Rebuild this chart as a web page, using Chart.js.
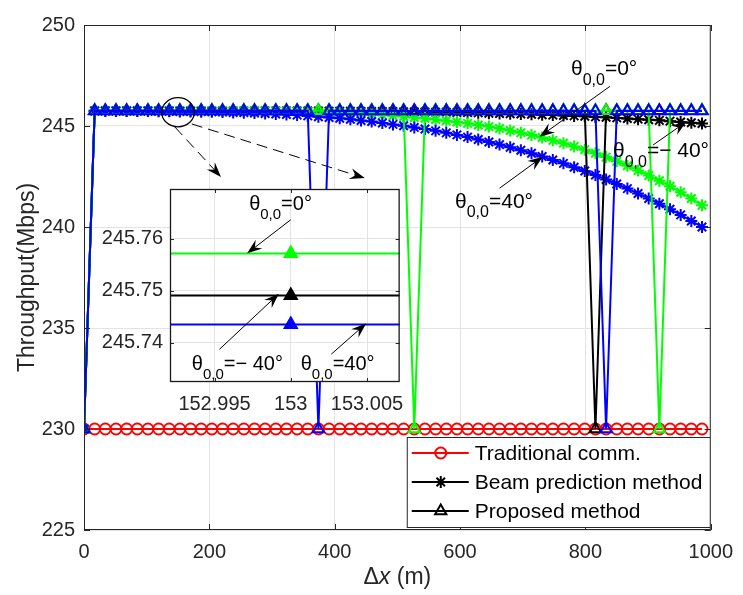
<!DOCTYPE html>
<html>
<head>
<meta charset="utf-8">
<script src="https://cdn.jsdelivr.net/npm/chart.js@4.4.0/dist/chart.umd.min.js"></script>
<style>
  html, body { margin: 0; padding: 0; background: #fff; }
  #wrap { position: relative; width: 743px; height: 595px; }
  #main { position: absolute; left: 0; top: 0; }
  #inset { position: absolute; left: 95px; top: 170px; }
</style>
</head>
<body>
<div id="wrap">
  <canvas id="main" width="743" height="595"></canvas>
  <canvas id="inset" width="320" height="250"></canvas>
</div>
<script>
const FONT = '"Liberation Sans", Arial, Helvetica, sans-serif';
const AXIS_COLOR = '#262626';
const GRID_COLOR = '#e3e3e3';

// ---- data ----
const dx = [0, 17, 34, 51, 68, 85, 102, 119, 136, 153,
  170, 187, 204, 221, 238, 255, 272, 289, 306, 323,
  340, 357, 374, 391, 408, 425, 442, 459, 476, 493,
  510, 527, 544, 561, 578, 595, 612, 629, 646, 663,
  680, 697, 714, 731, 748, 765, 782, 799, 816, 833,
  850, 867, 884, 901, 918, 935, 952, 969, 986];
const xTicks = [0, 200, 400, 600, 800, 1000];
const yTicks = [225, 230, 235, 240, 245, 250];

const tradComm = [230, 230, 230, 230, 230, 230, 230, 230, 230, 230,
  230, 230, 230, 230, 230, 230, 230, 230, 230, 230,
  230, 230, 230, 230, 230, 230, 230, 230, 230, 230,
  230, 230, 230, 230, 230, 230, 230, 230, 230, 230,
  230, 230, 230, 230, 230, 230, 230, 230, 230, 230,
  230, 230, 230, 230, 230, 230, 230, 230, 230];

// beam prediction, theta = 0 (green), 40 (blue), -40 (black)
const beamGreen = [230, 245.76, 245.76, 245.76, 245.76, 245.76, 245.76, 245.76, 245.76, 245.76,
  245.76, 245.76, 245.75, 245.75, 245.75, 245.74, 245.74, 245.73, 245.73, 245.72,
  245.71, 245.69, 245.68, 245.66, 245.65, 245.62, 245.60, 245.57, 245.54, 245.51,
  245.47, 245.42, 245.38, 245.32, 245.26, 245.20, 245.13, 245.05, 244.97, 244.88,
  244.78, 244.67, 244.55, 244.43, 244.29, 244.15, 243.99, 243.83, 243.65, 243.46,
  243.25, 243.03, 242.80, 242.55, 242.29, 242.02, 241.72, 241.41, 241.08];
const beamBlue = [230, 245.74, 245.74, 245.74, 245.74, 245.74, 245.74, 245.73, 245.73, 245.72,
  245.72, 245.71, 245.70, 245.69, 245.67, 245.66, 245.64, 245.62, 245.59, 245.57,
  245.54, 245.50, 245.46, 245.42, 245.38, 245.33, 245.27, 245.22, 245.15, 245.08,
  245.01, 244.93, 244.85, 244.76, 244.66, 244.56, 244.45, 244.33, 244.21, 244.08,
  243.95, 243.80, 243.65, 243.49, 243.32, 243.15, 242.96, 242.77, 242.57, 242.35,
  242.13, 241.90, 241.66, 241.41, 241.15, 240.88, 240.60, 240.30, 240.00];
const beamBlack = [230, 245.75, 245.75, 245.75, 245.75, 245.75, 245.75, 245.75, 245.75, 245.75,
  245.75, 245.75, 245.75, 245.75, 245.75, 245.75, 245.75, 245.75, 245.75, 245.75,
  245.74, 245.74, 245.74, 245.73, 245.73, 245.73, 245.72, 245.72, 245.72, 245.71,
  245.70, 245.70, 245.69, 245.68, 245.68, 245.67, 245.66, 245.65, 245.63, 245.62,
  245.61, 245.59, 245.58, 245.56, 245.54, 245.52, 245.50, 245.48, 245.45, 245.43,
  245.40, 245.37, 245.34, 245.31, 245.28, 245.24, 245.20, 245.16, 245.12];

// proposed method
const propGreen = [230, 245.7572, 245.7572, 245.7572, 245.7572, 245.7572, 245.7572, 245.7572, 245.7572, 245.7572,
  245.7572, 245.7572, 245.7572, 245.7572, 245.7572, 245.7572, 245.7572, 245.7572, 245.7572, 245.7572,
  245.7572, 245.7572, 245.7572, 245.7572, 245.7572, 245.7572, 245.7572, 245.7572, 245.7572, 245.7572,
  245.7572, 230, 245.7572, 245.7572, 245.7572, 245.7572, 245.7572, 245.7572, 245.7572, 245.7572,
  245.7572, 245.7572, 245.7572, 245.7572, 245.7572, 245.7572, 245.7572, 245.7572, 245.7572, 245.7572,
  245.7572, 245.7572, 245.7572, 245.7572, 230, 245.7572, 245.7572, 245.7572, 245.7572];
const propBlack = [230, 245.7491, 245.7491, 245.7491, 245.7491, 245.7491, 245.7491, 245.7491, 245.7491, 245.7491,
  245.7491, 245.7491, 245.7491, 245.7491, 245.7491, 245.7491, 245.7491, 245.7491, 245.7491, 245.7491,
  245.7491, 245.7491, 245.7491, 245.7491, 245.7491, 245.7491, 245.7491, 245.7491, 245.7491, 245.7491,
  245.7491, 245.7491, 245.7491, 245.7491, 245.7491, 245.7491, 245.7491, 245.7491, 245.7491, 245.7491,
  245.7491, 245.7491, 245.7491, 245.7491, 245.7491, 245.7491, 245.7491, 245.7491, 230, 245.7491,
  245.7491, 245.7491, 245.7491, 245.7491, 245.7491, 245.7491, 245.7491, 245.7491, 245.7491];
const propBlue = [230, 245.7435, 245.7435, 245.7435, 245.7435, 245.7435, 245.7435, 245.7435, 245.7435, 245.7435,
  245.7435, 245.7435, 245.7435, 245.7435, 245.7435, 245.7435, 245.7435, 245.7435, 245.7435, 245.7435,
  245.7435, 245.7435, 230, 245.7435, 245.7435, 245.7435, 245.7435, 245.7435, 245.7435, 245.7435,
  245.7435, 245.7435, 245.7435, 245.7435, 245.7435, 245.7435, 245.7435, 245.7435, 245.7435, 245.7435,
  245.7435, 245.7435, 245.7435, 245.7435, 245.7435, 245.7435, 245.7435, 245.7435, 245.7435, 230,
  245.7435, 245.7435, 245.7435, 245.7435, 245.7435, 245.7435, 245.7435, 245.7435, 245.7435];

const legendLabels = ['Traditional comm.', 'Beam prediction method', 'Proposed method'];

// zoomed inset around dx = 153
const insetXTicks = [152.995, 153, 153.005];
const insetXLabels = ['152.995', '153', '153.005'];
const insetYTicks = [245.74, 245.75, 245.76];
const insetYLabels = ['245.74', '245.75', '245.76'];

// ---- annotation anchors (data units) ----
const mainNotes = [
  { text: [777, 247.52], rest: '=0\u00b0', from: [839, 246.96], to: [727, 244.47] },
  { text: [592, 240.94], rest: '=40\u00b0', from: [663, 241.92], to: [732, 243.48] },
  { text: [844, 243.45], rest: '=\u2212 40\u00b0', from: [908, 244.06], to: [961, 245.21] }
];
const zoomEllipse = { cx: 150, cy: 245.68, rx: 26, ry: 0.72 };
const zoomLeaders = [
  { from: [145, 244.95], to: [218.5, 242.48] },
  { from: [172, 245.10], to: [448, 242.42] }
];
const insetNotes = [
  { text: [152.99727, 245.76556], rest: '=0\u00b0', from: [153.0, 245.7637], to: [152.99714, 245.75722] },
  { text: [152.99351, 245.73481], rest: '=\u2212 40\u00b0', from: [152.99532, 245.7387], to: [152.99922, 245.74944] },
  { text: [153.00065, 245.73481], rest: '=40\u00b0', from: [153.00266, 245.73778], to: [153.00494, 245.7437] }
];

Chart.defaults.font.family = FONT;
Chart.defaults.color = AXIS_COLOR;

function lineSeries(values, color, style, radius, markerWidth) {
  return {
    data: dx.map((x, i) => ({ x: x, y: values[i] })),
    borderColor: color,
    backgroundColor: color,
    borderWidth: 2,
    tension: 0,
    pointStyle: style,
    pointRadius: radius,
    pointBorderWidth: markerWidth,
    pointBorderColor: color,
    pointBackgroundColor: 'rgba(0,0,0,0)'
  };
}

function axis(min, max, ticks, labels, pad, fitFn) {
  return {
    type: 'linear', min: min, max: max,
    afterBuildTicks: s => { s.ticks = ticks.map(v => ({ value: v })); },
    afterFit: fitFn,
    grid: { color: GRID_COLOR, lineWidth: 1, drawTicks: false },
    border: { display: false },
    ticks: {
      font: { size: 20 }, color: AXIS_COLOR, padding: pad,
      autoSkip: false, maxRotation: 0,
      callback: (v, i) => labels[i]
    }
  };
}

function arrow(ctx, p0, p1, dashed) {
  const len = 15, half = 5.5;
  const a = Math.atan2(p1[1] - p0[1], p1[0] - p0[0]);
  const c = Math.cos(a), s = Math.sin(a);
  ctx.strokeStyle = '#000';
  ctx.fillStyle = '#000';
  ctx.lineWidth = 1;
  ctx.setLineDash(dashed ? [11, 6] : []);
  ctx.beginPath();
  ctx.moveTo(p0[0], p0[1]);
  ctx.lineTo(p1[0] - 0.6 * len * c, p1[1] - 0.6 * len * s);
  ctx.stroke();
  ctx.setLineDash([]);
  ctx.beginPath();
  ctx.moveTo(p1[0], p1[1]);
  ctx.lineTo(p1[0] - len * c + half * s, p1[1] - len * s - half * c);
  ctx.lineTo(p1[0] - 0.65 * len * c, p1[1] - 0.65 * len * s);
  ctx.lineTo(p1[0] - len * c - half * s, p1[1] - len * s + half * c);
  ctx.closePath();
  ctx.fill();
}

function thetaLabel(ctx, x, y, rest, size) {
  ctx.textAlign = 'left';
  ctx.textBaseline = 'alphabetic';
  ctx.fillStyle = '#000';
  ctx.font = size + 'px ' + FONT;
  ctx.fillText('\u03b8', x, y);
  let w = ctx.measureText('\u03b8').width;
  const sub = Math.round(size * 0.76);
  ctx.font = sub + 'px ' + FONT;
  ctx.fillText('0,0', x + w, y + size * 0.45);
  w += ctx.measureText('0,0').width;
  ctx.font = size + 'px ' + FONT;
  ctx.fillText(rest, x + w, y);
}

function inwardTicks(ctx, chart, xt, yt, len) {
  const a = chart.chartArea, sx = chart.scales.x, sy = chart.scales.y;
  ctx.strokeStyle = AXIS_COLOR;
  ctx.lineWidth = 1;
  ctx.beginPath();
  xt.forEach(v => {
    const p = Math.round(sx.getPixelForValue(v)) + 0.5;
    ctx.moveTo(p, a.bottom); ctx.lineTo(p, a.bottom - len);
    ctx.moveTo(p, a.top); ctx.lineTo(p, a.top + len);
  });
  yt.forEach(v => {
    const p = Math.round(sy.getPixelForValue(v)) + 0.5;
    ctx.moveTo(a.left, p); ctx.lineTo(a.left + len, p);
    ctx.moveTo(a.right, p); ctx.lineTo(a.right - len, p);
  });
  ctx.stroke();
}

const legendStyles = [
  { color: '#ff0000', style: 'circle', radius: 5.5 },
  { color: '#000000', style: 'star', radius: 6 },
  { color: '#000000', style: 'triangle', radius: 6.5 }
];

function drawLegend(ctx, a) {
  const w = 304, h = 91, x0 = a.right - w, y0 = a.bottom - 2 - h;
  ctx.fillStyle = '#fff';
  ctx.fillRect(x0, y0, w, h);
  ctx.strokeStyle = AXIS_COLOR;
  ctx.lineWidth = 1;
  ctx.strokeRect(x0 + 0.5, y0 + 0.5, w - 1, h - 1);
  legendLabels.forEach((label, k) => {
    const yy = y0 + 16 + k * 29;
    const st = legendStyles[k];
    ctx.strokeStyle = st.color;
    ctx.lineWidth = 2;
    ctx.beginPath();
    ctx.moveTo(x0 + 5, yy);
    ctx.lineTo(x0 + 62, yy);
    ctx.stroke();
    ctx.fillStyle = 'rgba(0,0,0,0)';
    ctx.lineWidth = 2;
    Chart.helpers.drawPoint(ctx, { pointStyle: st.style, radius: st.radius, rotation: 0, borderWidth: 2 }, x0 + 34, yy);
    ctx.fillStyle = '#000';
    ctx.font = '21px ' + FONT;
    ctx.textAlign = 'left';
    ctx.textBaseline = 'middle';
    ctx.fillText(label, x0 + 68, yy + 1);
  });
}

const mainDecor = {
  id: 'mainDecor',
  afterDraw(chart) {
    const { ctx, chartArea: a, scales } = chart;
    const px = p => [scales.x.getPixelForValue(p[0]), scales.y.getPixelForValue(p[1])];
    ctx.save();
    inwardTicks(ctx, chart, xTicks, yTicks, 6);
    ctx.strokeStyle = AXIS_COLOR;
    ctx.lineWidth = 1;
    ctx.strokeRect(a.left + 0.5, a.top + 0.5, a.right - a.left - 1, a.bottom - a.top - 1);

    // ellipse marking the zoomed region
    const c = px([zoomEllipse.cx, zoomEllipse.cy]);
    const rx = scales.x.getPixelForValue(zoomEllipse.cx + zoomEllipse.rx) - c[0];
    const ry = c[1] - scales.y.getPixelForValue(zoomEllipse.cy + zoomEllipse.ry);
    ctx.strokeStyle = '#000';
    ctx.lineWidth = 1.3;
    ctx.beginPath();
    ctx.ellipse(c[0], c[1], rx, ry, 0, 0, Math.PI * 2);
    ctx.stroke();
    zoomLeaders.forEach(l => arrow(ctx, px(l.from), px(l.to), true));

    mainNotes.forEach(n => {
      arrow(ctx, px(n.from), px(n.to), false);
      const t = px(n.text);
      thetaLabel(ctx, t[0], t[1], n.rest, 21);
    });

    drawLegend(ctx, a);

    // axis titles
    ctx.fillStyle = AXIS_COLOR;
    ctx.font = '23px ' + FONT;
    ctx.textBaseline = 'alphabetic';
    ctx.save();
    ctx.translate(34, (a.top + a.bottom) / 2);
    ctx.rotate(-Math.PI / 2);
    ctx.textAlign = 'center';
    ctx.fillText('Throughput(Mbps)', 0, 0);
    ctx.restore();

    const cx = (a.left + a.right) / 2;
    ctx.textAlign = 'left';
    ctx.font = '23px ' + FONT;
    const w1 = ctx.measureText('\u0394').width;
    ctx.font = 'italic 23px ' + FONT;
    const w2 = ctx.measureText('x').width;
    ctx.font = '23px ' + FONT;
    const w3 = ctx.measureText(' (m)').width;
    const x0 = cx - (w1 + w2 + w3) / 2;
    const yb = 584;
    ctx.fillText('\u0394', x0, yb);
    ctx.font = 'italic 23px ' + FONT;
    ctx.fillText('x', x0 + w1, yb);
    ctx.font = '23px ' + FONT;
    ctx.fillText(' (m)', x0 + w1 + w2, yb);
    ctx.restore();
  }
};

const mainChart = new Chart(document.getElementById('main'), {
  type: 'line',
  data: {
    datasets: [
      lineSeries(propBlue, '#0000ff', 'triangle', 6.5, 2),
      lineSeries(propGreen, '#00ff00', 'triangle', 6.5, 2),
      lineSeries(propBlack, '#000000', 'triangle', 6.5, 2),
      lineSeries(beamBlue, '#0000ff', 'star', 6, 2),
      lineSeries(beamGreen, '#00ff00', 'star', 6, 2),
      lineSeries(beamBlack, '#000000', 'star', 6, 2),
      lineSeries(tradComm, '#ff0000', 'circle', 5.5, 1.8)
    ]
  },
  options: {
    responsive: false,
    animation: false,
    devicePixelRatio: 1,
    layout: { padding: { left: 0, right: 32, top: 25, bottom: 0 } },
    plugins: { legend: { display: false }, tooltip: { enabled: false } },
    scales: {
      x: axis(0, 1000, xTicks, xTicks.map(String), 10, s => { s.height = 65; }),
      y: axis(225, 250, yTicks, yTicks.map(String), 9, s => { s.width = 84; })
    }
  },
  plugins: [mainDecor]
});

// ---- inset ----
function insetSeries(values, color) {
  const pts = dx.map((x, i) => ({ x: x, y: values[i] })).filter(p => p.x >= 130 && p.x <= 180);
  return {
    data: pts,
    borderColor: color,
    backgroundColor: color,
    borderWidth: 2,
    tension: 0,
    pointStyle: 'triangle',
    pointRadius: 7.5,
    pointBorderWidth: 1.5,
    pointBorderColor: color,
    pointBackgroundColor: color
  };
}

const insetDecor = {
  id: 'insetDecor',
  beforeDraw(chart) {
    const { ctx, chartArea: a } = chart;
    ctx.save();
    ctx.fillStyle = '#fff';
    ctx.fillRect(a.left, a.top, a.right - a.left, a.bottom - a.top);
    ctx.restore();
  },
  afterDraw(chart) {
    const { ctx, chartArea: a, scales } = chart;
    const px = p => [scales.x.getPixelForValue(p[0]), scales.y.getPixelForValue(p[1])];
    ctx.save();
    inwardTicks(ctx, chart, insetXTicks, insetYTicks, 4);
    ctx.strokeStyle = '#1a1a1a';
    ctx.lineWidth = 1.3;
    ctx.strokeRect(a.left + 0.5, a.top + 0.5, a.right - a.left - 1, a.bottom - a.top - 1);
    insetNotes.forEach(n => {
      arrow(ctx, px(n.from), px(n.to), false);
      const t = px(n.text);
      thetaLabel(ctx, t[0], t[1], n.rest, 20);
    });
    ctx.restore();
  }
};

const insetChart = new Chart(document.getElementById('inset'), {
  type: 'line',
  data: {
    datasets: [
      insetSeries(propBlue, '#0000ff'),
      insetSeries(propBlack, '#000000'),
      insetSeries(propGreen, '#00ff00')
    ]
  },
  options: {
    responsive: false,
    animation: false,
    devicePixelRatio: 1,
    layout: { padding: { left: 0, right: 13, top: 11, bottom: 0 } },
    plugins: { legend: { display: false }, tooltip: { enabled: false } },
    scales: {
      x: axis(152.99208, 153.00714, insetXTicks, insetXLabels, 10, s => { s.height = 38; }),
      y: axis(245.73241, 245.76963, insetYTicks, insetYLabels, 7, s => { s.width = 75; })
    }
  },
  plugins: [insetDecor]
});
</script>
</body>
</html>
